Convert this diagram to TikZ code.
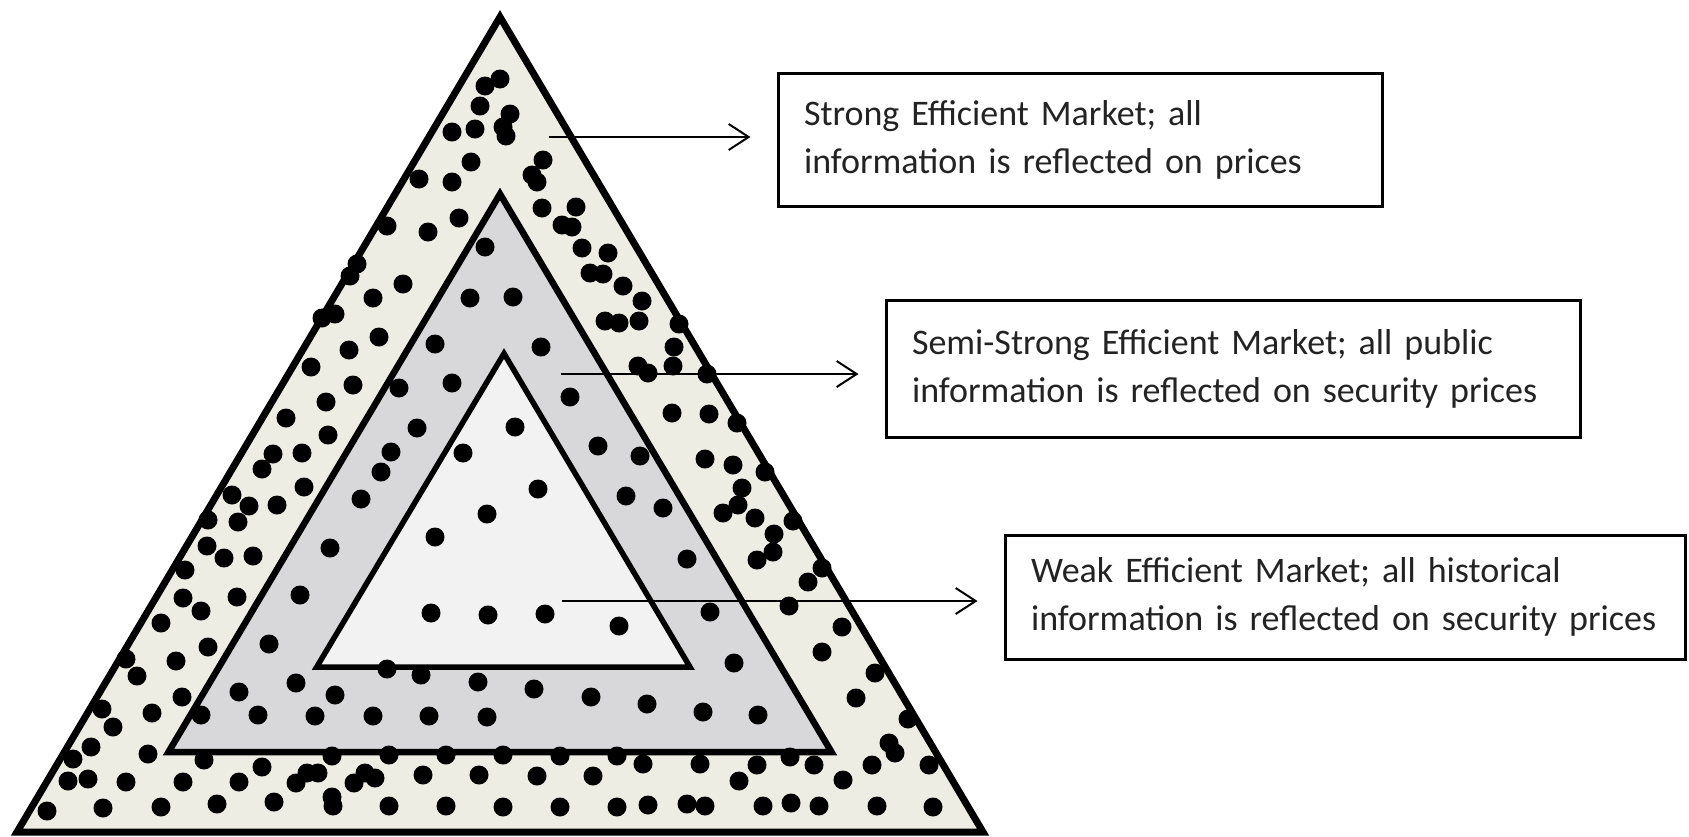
\documentclass[tikz,border=0pt]{standalone}
\usepackage{fontspec}
\setmainfont{Carlito}
\usepackage{xcolor}
\usetikzlibrary{arrows.meta,positioning,calc}

\definecolor{outerfill}{RGB}{238,237,227}
\definecolor{midfill}{RGB}{216,216,219}
\definecolor{innerfill}{RGB}{242,242,243}
\definecolor{boxtext}{RGB}{35,35,35}

\tikzset{
    infobox/.style={draw, line width=3pt, fill=white, align=left, inner xsep=26pt, inner ysep=0pt,
        font=\fontsize{36}{48}\selectfont, text=boxtext},
    pointer/.style={line width=2pt, -{Straight Barb[length=20pt,width=26pt,line width=2pt]}, shorten >=26pt}
}

\begin{document}
\begin{tikzpicture}[x=1pt,y=-1pt]
    \useasboundingbox (0,0) rectangle (1689,836);

    % the three levels
    \draw[fill=outerfill, line width=7pt] (500,17) -- (17,832) -- (983,832) -- cycle;
    \draw[fill=midfill, line width=6.5pt] (500,194) -- (168.5,752) -- (831.5,752) -- cycle;
    \draw[fill=innerfill, line width=5.5pt] (504,353.5) -- (316.7,667) -- (690,667) -- cycle;

    % dots, strong level
    \foreach \x/\y in {500/79, 485/86, 480/106, 510/114, 503/127, 506/136, 475/129, 452/132, 471/162, 543/160,
        532/175, 537/182, 419/179, 452/182, 459/218, 542/208, 576/207, 562/225, 572/227, 582/248, 608/253,
        590/273, 603/274, 623/286, 387/226, 428/232, 357/264, 350/276, 403/284,
        373/298, 322/318, 335/314, 379/337, 349/350, 311/367, 353/385, 326/402, 286/418, 328/435, 273/454,
        262/469, 302/453, 304/487, 232/495, 249/506, 277/505, 208/520, 238/522, 207/546, 224/558, 253/556, 185/570,
        642/301, 605/321, 619/323, 639/321, 679/324, 674/347, 638/366, 648/373, 673/366, 707/374, 672/413,
        709/414, 737/423, 705/459, 733/465, 765/472, 742/488, 738/505, 723/513, 755/518, 793/521, 774/534,
        773/552, 757/560, 822/568,
        183/598, 201/611, 237/597, 161/623, 208/647, 176/661, 126/659, 137/676, 182/697, 152/713, 102/709,
        113/727, 91/747, 148/754, 73/759, 68/781, 88/779, 126/782, 204/760, 183/782, 239/782, 262/767, 296/783,
        307/773, 318/773, 354/783, 365/773, 375/778, 332/756, 389/755, 446/755, 423/775, 479/775, 47/811,
        103/808, 161/807, 217/804, 274/802, 332/797, 333/806, 389/806, 446/806,
        808/582, 789/606, 842/627, 822/652, 875/673, 856/698, 908/719, 889/743, 895/753, 872/765, 929/765,
        843/780, 814/765, 790/757, 757/765, 739/781, 700/764, 643/764, 617/756, 560/756, 503/755, 537/776,
        593/776, 503/807, 560/807, 617/807, 648/805, 687/804, 705/806, 763/806, 791/803, 819/806, 877/806, 933/807}
        \fill (\x,\y) circle (9.5pt);

    % dots, semi-strong level
    \foreach \x/\y in {485/247, 470/298, 513/297, 435/344, 541/347, 399/388, 452/383, 417/428, 391/452,
        381/472, 361/499, 330/548, 570/397, 598/446, 640/456, 626/496, 663/508, 687/559, 300/595, 269/644,
        239/692, 296/683, 335/695, 201/715, 258/715, 315/716, 373/716, 429/716, 487/717, 387/669, 421/675,
        478/682, 710/612, 734/663, 534/689, 591/697, 647/704, 703/712, 758/715}
        \fill (\x,\y) circle (9.5pt);

    % dots, weak level
    \foreach \x/\y in {515/427, 463/453, 538/489, 487/514, 435/537, 431/613, 488/615, 545/614, 619/626}
        \fill (\x,\y) circle (9.5pt);

    \node[infobox, text width=552pt, minimum height=133pt] (strong) at (1080,139.5)
        {Strong Efficient Market; all\\information is reflected on prices};
    \node[infobox, text width=642pt, minimum height=137pt] (semi) at (1233,368.5)
        {Semi-Strong Efficient Market; all public\\information is reflected on security~prices};
    \node[infobox, text width=628pt, minimum height=124pt] (weak) at (1345,597)
        {Weak Efficient Market; all historical\\information is reflected on security~prices};

    \coordinate (s1) at (549,137);
    \coordinate (s2) at (561,374);
    \coordinate (s3) at (562,601);
    \draw[pointer] (s1) -- (s1 -| strong.west);
    \draw[pointer] (s2) -- (s2 -| semi.west);
    \draw[pointer] (s3) -- (s3 -| weak.west);
\end{tikzpicture}
\end{document}
